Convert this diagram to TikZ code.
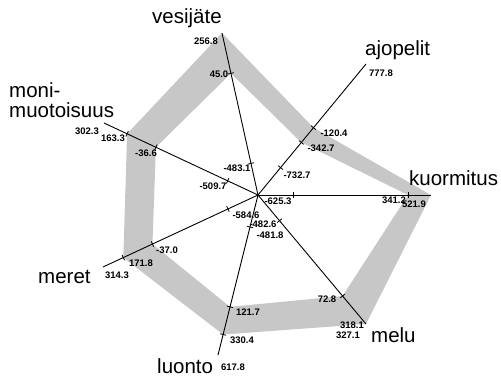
\documentclass[tikz,border=0pt]{standalone}
\usepackage{fontspec}
\setmainfont{Liberation Sans}
\usetikzlibrary{calc}
\begin{document}
\begin{tikzpicture}[x=1pt,y=-1pt,
  axisline/.style={line width=0.9pt, black},
  tickline/.style={line width=0.8pt, black},
  band/.style={fill=black!22, even odd rule},
  biglabel/.style={font=\fontsize{20.5}{22}\selectfont, inner sep=0pt, anchor=base west},
  num/.style={font=\bfseries\fontsize{9.5}{10}\selectfont, inner sep=0pt}]
\useasboundingbox (0,0) rectangle (501,376);
% centre and axis ends
\coordinate (O) at (258,195);
\coordinate (V) at (222,33);
\coordinate (A) at (366,64);
\coordinate (K) at (431,195);
\coordinate (M) at (366,324);
\coordinate (L) at (218,355);
\coordinate (Me) at (103,267);
\coordinate (Mo) at (104,123);
% tick positions along the axes
\foreach \ax/\t/\nm in {V/0.751/Vi, V/0.195/Vc,
    A/0.514/Ao, A/0.401/Ai, A/0.209/Ac,
    K/0.867/Ki, K/0.202/Kc,
    M/0.783/Mi, M/0.199/Mc,
    L/0.872/Lo, L/0.699/Li, L/0.2/Lc,
    Me/0.869/Meo, Me/0.681/Mei, Me/0.194/Mec,
    Mo/0.85/Moo, Mo/0.663/Moi, Mo/0.197/Moc}
  {\coordinate (\nm) at ($(O)!\t!(\ax)$);}
% shaded band
\fill[band] (V) -- (Ao) -- (K) -- (M) -- (Lo) -- (Meo) -- (Moo) -- cycle
            (Vi) -- (Ai) -- (Ki) -- (Mi) -- (Li) -- (Mei) -- (Moi) -- cycle;
% axes
\foreach \ax in {V,A,K,M,L,Me,Mo}
  {\draw[axisline] (O) -- (\ax);}
% ticks
\foreach \p/\ax in {V/V, Vi/V, Vc/V, A/A, Ao/A, Ai/A, Ac/A, K/K, Ki/K, Kc/K,
    M/M, Mi/M, Mc/M, L/L, Lo/L, Li/L, Lc/L, Me/Me, Meo/Me, Mei/Me, Mec/Me,
    Mo/Mo, Moo/Mo, Moi/Mo, Moc/Mo}
  {\draw[tickline] ($(\p)!3pt!90:(\ax)$) -- ($(\p)!3pt!-90:(\ax)$);}
% axis names
\node[biglabel] (tV) at (152,23) {vesijäte};
\node[biglabel] (tA) at (365,55) {ajopelit};
\node[biglabel] (tK) at (409,185) {kuormitus};
\node[biglabel] (tMo1) at (9,97) {moni-};
\node[biglabel] (tMo2) at (9,117) {muotoisuus};
\node[biglabel] (tMe) at (38,283) {meret};
\node[biglabel] (tM) at (371,342) {melu};
\node[biglabel] (tL) at (157,373) {luonto};
% values
\node[num] (n1) at (206,41) {256.8};
\node[num] (n2) at (219,74) {45.0};
\node[num] (n3) at (381,73) {777.8};
\node[num] (n4) at (334,133) {-120.4};
\node[num] (n5) at (321,148) {-342.7};
\node[num] (n6) at (297,175) {-732.7};
\node[num] (n7) at (278,201) {-625.3};
\node[num] (n8) at (394,200) {341.2};
\node[num] (n9) at (414,204) {521.9};
\node[num] (n10) at (327,299) {72.8};
\node[num] (n11) at (352,325) {318.1};
\node[num] (n12) at (348,335) {327.1};
\node[num] (n13) at (248,312) {121.7};
\node[num] (n14) at (242,340) {330.4};
\node[num] (n15) at (233,367) {617.8};
\node[num] (n16) at (117,275) {314.3};
\node[num] (n17) at (141,263) {171.8};
\node[num] (n18) at (167,250) {-37.0};
\node[num] (n19) at (146,153) {-36.6};
\node[num] (n20) at (113,138) {163.3};
\node[num] (n21) at (87,131) {302.3};
\node[num] (n22) at (237,168) {-483.1};
\node[num] (n23) at (213,186) {-509.7};
\node[num] (n24) at (246,215) {-584.6};
\node[num] (n25) at (263,224) {-482.6};
\node[num] (n26) at (270,235) {-481.8};
\end{tikzpicture}
\end{document}
